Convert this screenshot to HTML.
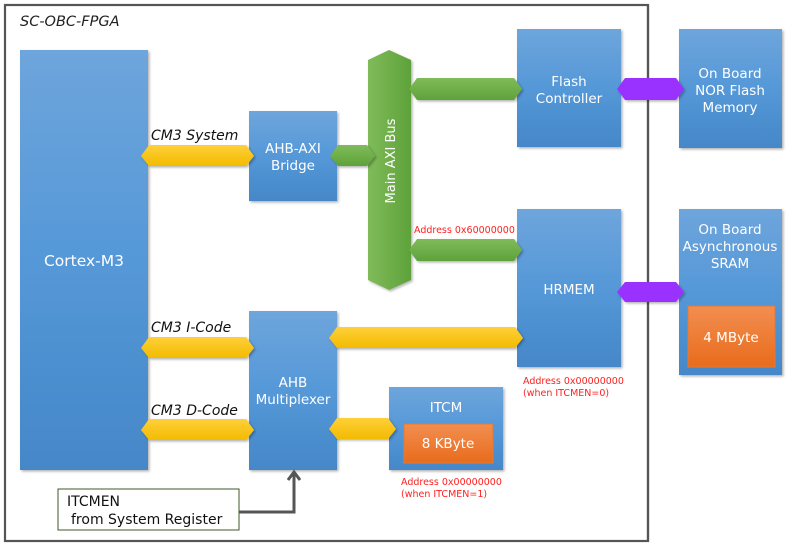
<!DOCTYPE html>
<html><head><meta charset="utf-8"><style>
html,body{margin:0;padding:0;background:#fff;width:800px;height:560px;overflow:hidden}
svg{display:block;font-family:"DejaVu Sans","Liberation Sans",sans-serif}
</style></head><body>
<svg width="800" height="560" viewBox="0 0 800 560">
<defs>
<linearGradient id="b" x1="0" y1="0" x2="0" y2="1"><stop offset="0" stop-color="#6ea5dc"/><stop offset="0.5" stop-color="#5598d8"/><stop offset="1" stop-color="#4587c8"/></linearGradient>
<linearGradient id="g" x1="0" y1="0" x2="1" y2="0"><stop offset="0" stop-color="#80bb5a"/><stop offset="1" stop-color="#5ea23a"/></linearGradient>
<linearGradient id="gh" x1="0" y1="0" x2="0" y2="1"><stop offset="0" stop-color="#80bb5a"/><stop offset="1" stop-color="#5ea23a"/></linearGradient>
<linearGradient id="y" x1="0" y1="0" x2="0" y2="1"><stop offset="0" stop-color="#ffcf3a"/><stop offset="1" stop-color="#f2bb00"/></linearGradient>
<linearGradient id="o" x1="0" y1="0" x2="0" y2="1"><stop offset="0" stop-color="#f28e50"/><stop offset="1" stop-color="#e86c1c"/></linearGradient>
<filter id="s" x="-10%" y="-10%" width="130%" height="130%"><feDropShadow dx="1.5" dy="1.5" stdDeviation="1.2" flood-color="#000" flood-opacity="0.3"/></filter>
</defs>
<rect x="5" y="5" width="643" height="536" fill="none" stroke="#555" stroke-width="2.2"/>
<text x="20" y="26" font-size="14.5" font-style="italic" fill="#222">SC-OBC-FPGA</text>

<g filter="url(#s)">
<rect x="20" y="50" width="128" height="420" fill="url(#b)"/>
<rect x="249" y="111" width="88" height="90" fill="url(#b)"/>
<rect x="249" y="311" width="88" height="159" fill="url(#b)"/>
<rect x="517" y="29" width="104" height="118" fill="url(#b)"/>
<rect x="679" y="29" width="103" height="119" fill="url(#b)"/>
<rect x="517" y="209" width="104" height="158" fill="url(#b)"/>
<rect x="679" y="209" width="103" height="166" fill="url(#b)"/>
<rect x="389" y="387" width="114" height="83" fill="url(#b)"/>
<polygon points="368,60 389,50 411,60 411,280 389,290 368,280" fill="url(#g)"/>
</g>
<line x1="648" y1="5" x2="648" y2="541" stroke="#555" stroke-width="2.2"/>
<rect x="688" y="306" width="87" height="61" fill="url(#o)" stroke="#e07a3a"/>
<rect x="404" y="424" width="89" height="39" fill="url(#o)" stroke="#e07a3a"/>

<g filter="url(#s)">
<polygon points="141,156 149,145 246,145 254,156 246,166 149,166" fill="url(#y)"/>
<polygon points="141,348 149,337 246,337 254,348 246,358 149,358" fill="url(#y)"/>
<polygon points="141,430 149,419 246,419 254,430 246,440 149,440" fill="url(#y)"/>
<polygon points="329,338 337,327 515,327 523,338 515,348 337,348" fill="url(#y)"/>
<polygon points="329,429 337,418 388,418 396,429 388,439 337,439" fill="url(#y)"/>
<polygon points="330,156 338,145 367,145 375,156 367,166 338,166" fill="url(#gh)"/>
<polygon points="409,89 417,78 514,78 522,89 514,100 417,100" fill="url(#gh)"/>
<polygon points="409,250 417,239 514,239 522,250 514,261 417,261" fill="url(#gh)"/>
<polygon points="617,89 625,78 676,78 684,89 676,100 625,100" fill="#9933ff"/>
<polygon points="617,292 625,282 676,282 684,292 676,302 625,302" fill="#9933ff"/>
</g>

<g fill="#fff" font-size="13.5" text-anchor="middle">
<text x="84" y="266" font-size="15.5">Cortex-M3</text>
<text x="293" y="153">AHB-AXI</text><text x="293" y="170">Bridge</text>
<text x="293" y="387">AHB</text><text x="293" y="404">Multiplexer</text>
<text x="569" y="86">Flash</text><text x="569" y="103">Controller</text>
<text x="730" y="78">On Board</text><text x="730" y="95">NOR Flash</text><text x="730" y="112">Memory</text>
<text x="569" y="294">HRMEM</text>
<text x="730" y="234">On Board</text><text x="730" y="251">Asynchronous</text><text x="730" y="268">SRAM</text>
<text x="731" y="342">4 MByte</text>
<text x="446" y="412">ITCM</text>
<text x="448" y="448">8 KByte</text>
<text transform="translate(395,161) rotate(-90)" font-size="13">Main AXI Bus</text>
</g>
<g font-size="14" font-style="italic" fill="#111">
<text x="151" y="140">CM3 System</text>
<text x="151" y="332">CM3 I-Code</text>
<text x="151" y="415">CM3 D-Code</text>
</g>
<g font-size="9.5" fill="#ff2020">
<text x="414" y="233">Address  0x60000000</text>
<text x="523" y="384">Address  0x00000000</text>
<text x="523" y="396">(when  ITCMEN=0)</text>
<text x="401" y="485">Address  0x00000000</text>
<text x="401" y="497">(when  ITCMEN=1)</text>
</g>
<rect x="58" y="489" width="181" height="41" fill="#fff" stroke="#3d5a2a" stroke-width="1"/>
<text x="67" y="506" font-size="14" fill="#111">ITCMEN</text>
<text x="71" y="524" font-size="14" fill="#111">from System Register</text>
<polyline points="239,512 294,512 294,472" fill="none" stroke="#555" stroke-width="3"/>
<polyline points="288,480 294,472 300,480" fill="none" stroke="#555" stroke-width="3"/>
</svg>
</body></html>
